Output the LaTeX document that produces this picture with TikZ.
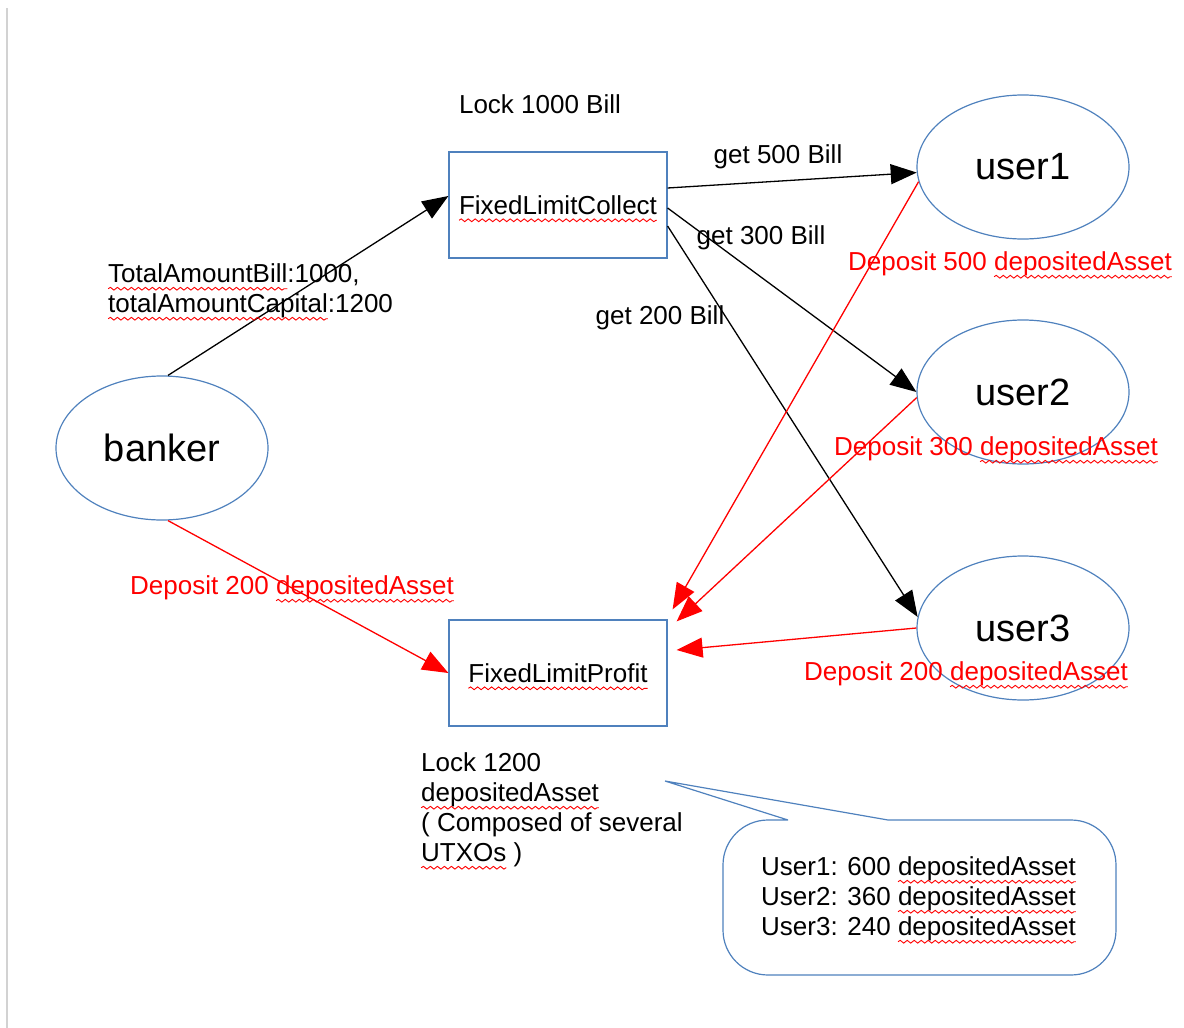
\documentclass[tikz,border=0pt]{standalone}
\usepackage{fontspec}
\setmainfont{Liberation Sans}
\usetikzlibrary{arrows.meta,shapes.geometric,decorations.pathmorphing}
\definecolor{boxblue}{RGB}{79,129,189}
\newcommand{\spellmark}[1]{\tikz[baseline=(w.base)]{\node[rectangle,inner sep=0pt,outer sep=0pt,minimum width=0pt,minimum height=0pt,draw=none] (w) {#1};
  \draw[overlay,red,line width=0.9pt,decorate,decoration={snake,amplitude=1.4pt,segment length=7pt}] ([yshift=-6pt]w.base west) -- ([yshift=-6pt]w.base east);}}
\tikzset{
  party/.style={ellipse,draw=boxblue,line width=1.2pt,minimum width=212pt,minimum height=144pt,inner sep=0pt,font=\fontsize{38}{44}\selectfont},
  contract/.style={rectangle,draw=boxblue,line width=1.2pt,minimum width=218pt,minimum height=106pt,inner sep=0pt,font=\fontsize{26}{30}\selectfont},
  lbl/.style={inner sep=0pt,align=left,font=\fontsize{26}{30}\selectfont},
  redlbl/.style={lbl,text=red},
  getarrow/.style={-{Triangle[length=26pt,width=20pt]},line width=1.3pt},
  deparrow/.style={getarrow,red},
}
\begin{document}
\begin{tikzpicture}[x=1pt,y=-1pt]
\useasboundingbox (0,0) rectangle (1184,1028);
\draw [gray!35,line width=2pt] (7,8)--(7,1028);
% the parties
\node [party] (banker) at (162,448) {banker};
\node [party] (user1) at (1023,167) {user1};
\node [party] (user2) at (1023,392) {user2};
\node [party] (user3) at (1023,628) {user3};
% the two contracts
\node [contract] (collect) at (558,205) {\spellmark{FixedLimitCollect}};
\node [contract] (profit) at (558,673) {\spellmark{FixedLimitProfit}};
% bills
\draw [getarrow] ([xshift=6pt]banker.north) -- ([yshift=9pt]collect.west);
\draw [getarrow] ([yshift=17pt]collect.east) -- (user1.183);
\draw [getarrow] ([yshift=-3pt]collect.east) -- (user2.west);
\draw [getarrow] ([yshift=-21pt]collect.east) -- (user3.174);
% deposits
\draw [deparrow] ([xshift=6pt]banker.south) -- (profit.west);
\draw [deparrow] (user1.188) -- ([shift={(5,-10)}]profit.north east);
\draw [deparrow] (user2.183) -- ([shift={(9,2)}]profit.north east);
\draw [deparrow] (user3.west) -- ([shift={(9,-23)}]profit.east);
% labels
\node [lbl] (lock1) at (540,104) {Lock 1000 Bill};
\node [lbl,anchor=west] (total) at (108,291) {\spellmark{TotalAmountBill}:1000,\\\spellmark{totalAmountCapital}:1200};
\node [lbl] (get1) at (778,157) {get 500 Bill};
\node [lbl] (get2) at (761,238) {get 300 Bill};
\node [lbl] (get3) at (660,318) {get 200 Bill};
\node [redlbl] (dep0) at (292,588) {Deposit 200 \spellmark{depositedAsset}};
\node [redlbl] (dep1) at (1010,264) {Deposit 500 \spellmark{depositedAsset}};
\node [redlbl] (dep2) at (996,449) {Deposit 300 \spellmark{depositedAsset}};
\node [redlbl] (dep3) at (966,674) {Deposit 200 \spellmark{depositedAsset}};
\node [lbl,anchor=west] (lock2) at (421,810) {Lock 1200\\\spellmark{depositedAsset}\\( Composed of several\\\spellmark{UTXOs} )};
% callout
\draw [boxblue,line width=1.2pt] (788,820) -- (665,781) -- (888,820) [rounded corners=45pt] -- (1116,820) -- (1116,975) -- (723,975) -- (723,820) -- (788,820);
\node [lbl,anchor=west] (shares) at (761,899) {User1: 600 \spellmark{depositedAsset}\\User2: 360 \spellmark{depositedAsset}\\User3: 240 \spellmark{depositedAsset}};
\end{tikzpicture}
\end{document}
